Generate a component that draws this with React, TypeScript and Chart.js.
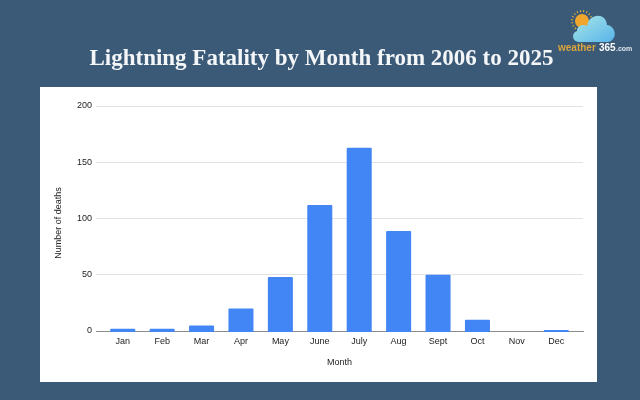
import React, { useEffect, useRef } from "react";
import { Chart, registerables } from "chart.js";

Chart.register(...registerables);

const months = ["Jan", "Feb", "Mar", "Apr", "May", "June", "July", "Aug", "Sept", "Oct", "Nov", "Dec"];
const deaths = [2, 2, 5, 20, 48, 112, 163, 89, 50, 10, 0, 1];
const yTicks = [0, 50, 100, 150, 200];
const chartTitle = "Lightning Fatality by Month from 2006 to 2025";
const xTitle = "Month";
const yTitle = "Number of deaths";

const panelPlugin = {
  id: "panel",
  beforeDraw(chart: any) {
    const { ctx } = chart;
    ctx.save();
    ctx.fillStyle = "#ffffff";
    ctx.fillRect(40, 87, 557, 295);
    ctx.restore();
  },
  afterLayout(chart: any) {
    // centre the heading on the page rather than on the padded chart box
    if (chart.titleBlock) chart.titleBlock.left += 10;
  },
};

export default function App() {
  const ref = useRef<HTMLCanvasElement | null>(null);

  useEffect(() => {
    document.body.style.margin = "0";
    const chart = new Chart(ref.current!, {
      type: "bar",
      data: {
        labels: months,
        datasets: [
          {
            label: yTitle,
            data: deaths,
            // bars sit over the axis line, so they reach just below zero and are not clipped there
            base: -0.9,
            clip: 2,
            backgroundColor: (c: any) => (c.raw === 0 ? "rgba(0,0,0,0)" : "#4285f4"),
            barPercentage: 0.635,
            categoryPercentage: 1,
            borderRadius: { topLeft: 1, topRight: 1, bottomLeft: 0, bottomRight: 0 },
            borderSkipped: false,
          },
        ],
      },
      plugins: [panelPlugin],
      options: {
        animation: false,
        responsive: false,
        layout: { padding: { left: 50, right: 57, top: 0, bottom: 30 } },
        plugins: {
          legend: { display: false },
          tooltip: { enabled: false },
          title: {
            display: true,
            text: chartTitle,
            color: "#f4f6f8",
            font: { family: "'Liberation Serif'", weight: "bold", size: 23 },
            padding: { top: 45.7, bottom: 32.7 },
          },
        },
        scales: {
          x: {
            grid: { display: false, drawTicks: false },
            border: { color: "#8c8c8c", width: 1 },
            ticks: { color: "#222222", font: { family: "Liberation Sans", size: 9 }, padding: 5, maxRotation: 0 },
            title: {
              display: true,
              text: xTitle,
              color: "#222222",
              font: { family: "Liberation Sans", size: 9 },
              padding: { top: 7, bottom: 2 },
            },
            afterFit(scale: any) {
              scale.height = 39;
            },
            afterUpdate(scale: any) {
              // inset the categories from the plot edges: gridlines run wider than the bars
              const inset = 0.178;
              scale._startValue = -0.5 - inset;
              scale._valueRange = months.length + 2 * inset;
              scale._labelItems = null;
            },
          },
          y: {
            min: 0,
            max: 200,
            afterBuildTicks(scale: any) {
              scale.ticks = yTicks.map((value) => ({ value }));
            },
            grid: {
              drawTicks: false,
              color: (c: any) => (c.tick && c.tick.value === 0 ? "rgba(0,0,0,0)" : "#e2e2e2"),
            },
            border: { display: false },
            ticks: { color: "#222222", font: { family: "Liberation Sans", size: 9 }, padding: 4 },
            title: {
              display: true,
              text: yTitle,
              color: "#222222",
              font: { family: "Liberation Sans", size: 9 },
              padding: { top: 3, bottom: 0 },
            },
            afterFit(scale: any) {
              scale.width = 46;
            },
            afterUpdate(scale: any) {
              if (scale.__titleShifted) return;
              scale.__titleShifted = true;
              const drawTitle = scale.drawTitle;
              scale.drawTitle = function () {
                this.ctx.save();
                this.ctx.translate(0, 4.5);
                drawTitle.call(this);
                this.ctx.restore();
              };
            },
          },
        },
      },
    } as any);
    return () => chart.destroy();
  }, []);

  return (
    <div style={{ position: "fixed", left: 0, top: 0, width: 640, height: 400, background: "#3a5a78", overflow: "hidden" }}>
      <canvas ref={ref} width={640} height={400} style={{ display: "block", position: "absolute", left: 0, top: 0 }} />
      <svg width={100} height={60} viewBox="540 0 100 60" style={{ position: "absolute", left: 540, top: 0 }}>
        <defs>
          <linearGradient id="cloudFill" x1="0" y1="0" x2="1" y2="1">
            <stop offset="0" stopColor="#a8e6e6" />
            <stop offset="1" stopColor="#58b4ea" />
          </linearGradient>
        </defs>
        <circle cx="582" cy="21" r="10" stroke="#e8b23a" strokeWidth="2" strokeDasharray="1 2.2" fill="none" />
        <circle cx="582" cy="21" r="7" fill="#f0a52c" />
        <path
          d="M579 42 C572 42 571 33 577 31 C577 25 584 24 587 26 C589 13 606 12 607 25 C614 25 617 35 613 39 C611 42 608 42 606 42 Z"
          fill="url(#cloudFill)"
        />
        <text x="558" y="51" fontFamily="Liberation Sans" fontWeight="bold" fontSize="10" fill="#dba43c">
          weather
          <tspan x="599" fill="#ffffff">365</tspan>
          <tspan x="616" fill="#dfe6ec" fontSize="7">.com</tspan>
        </text>
      </svg>
    </div>
  );
}
